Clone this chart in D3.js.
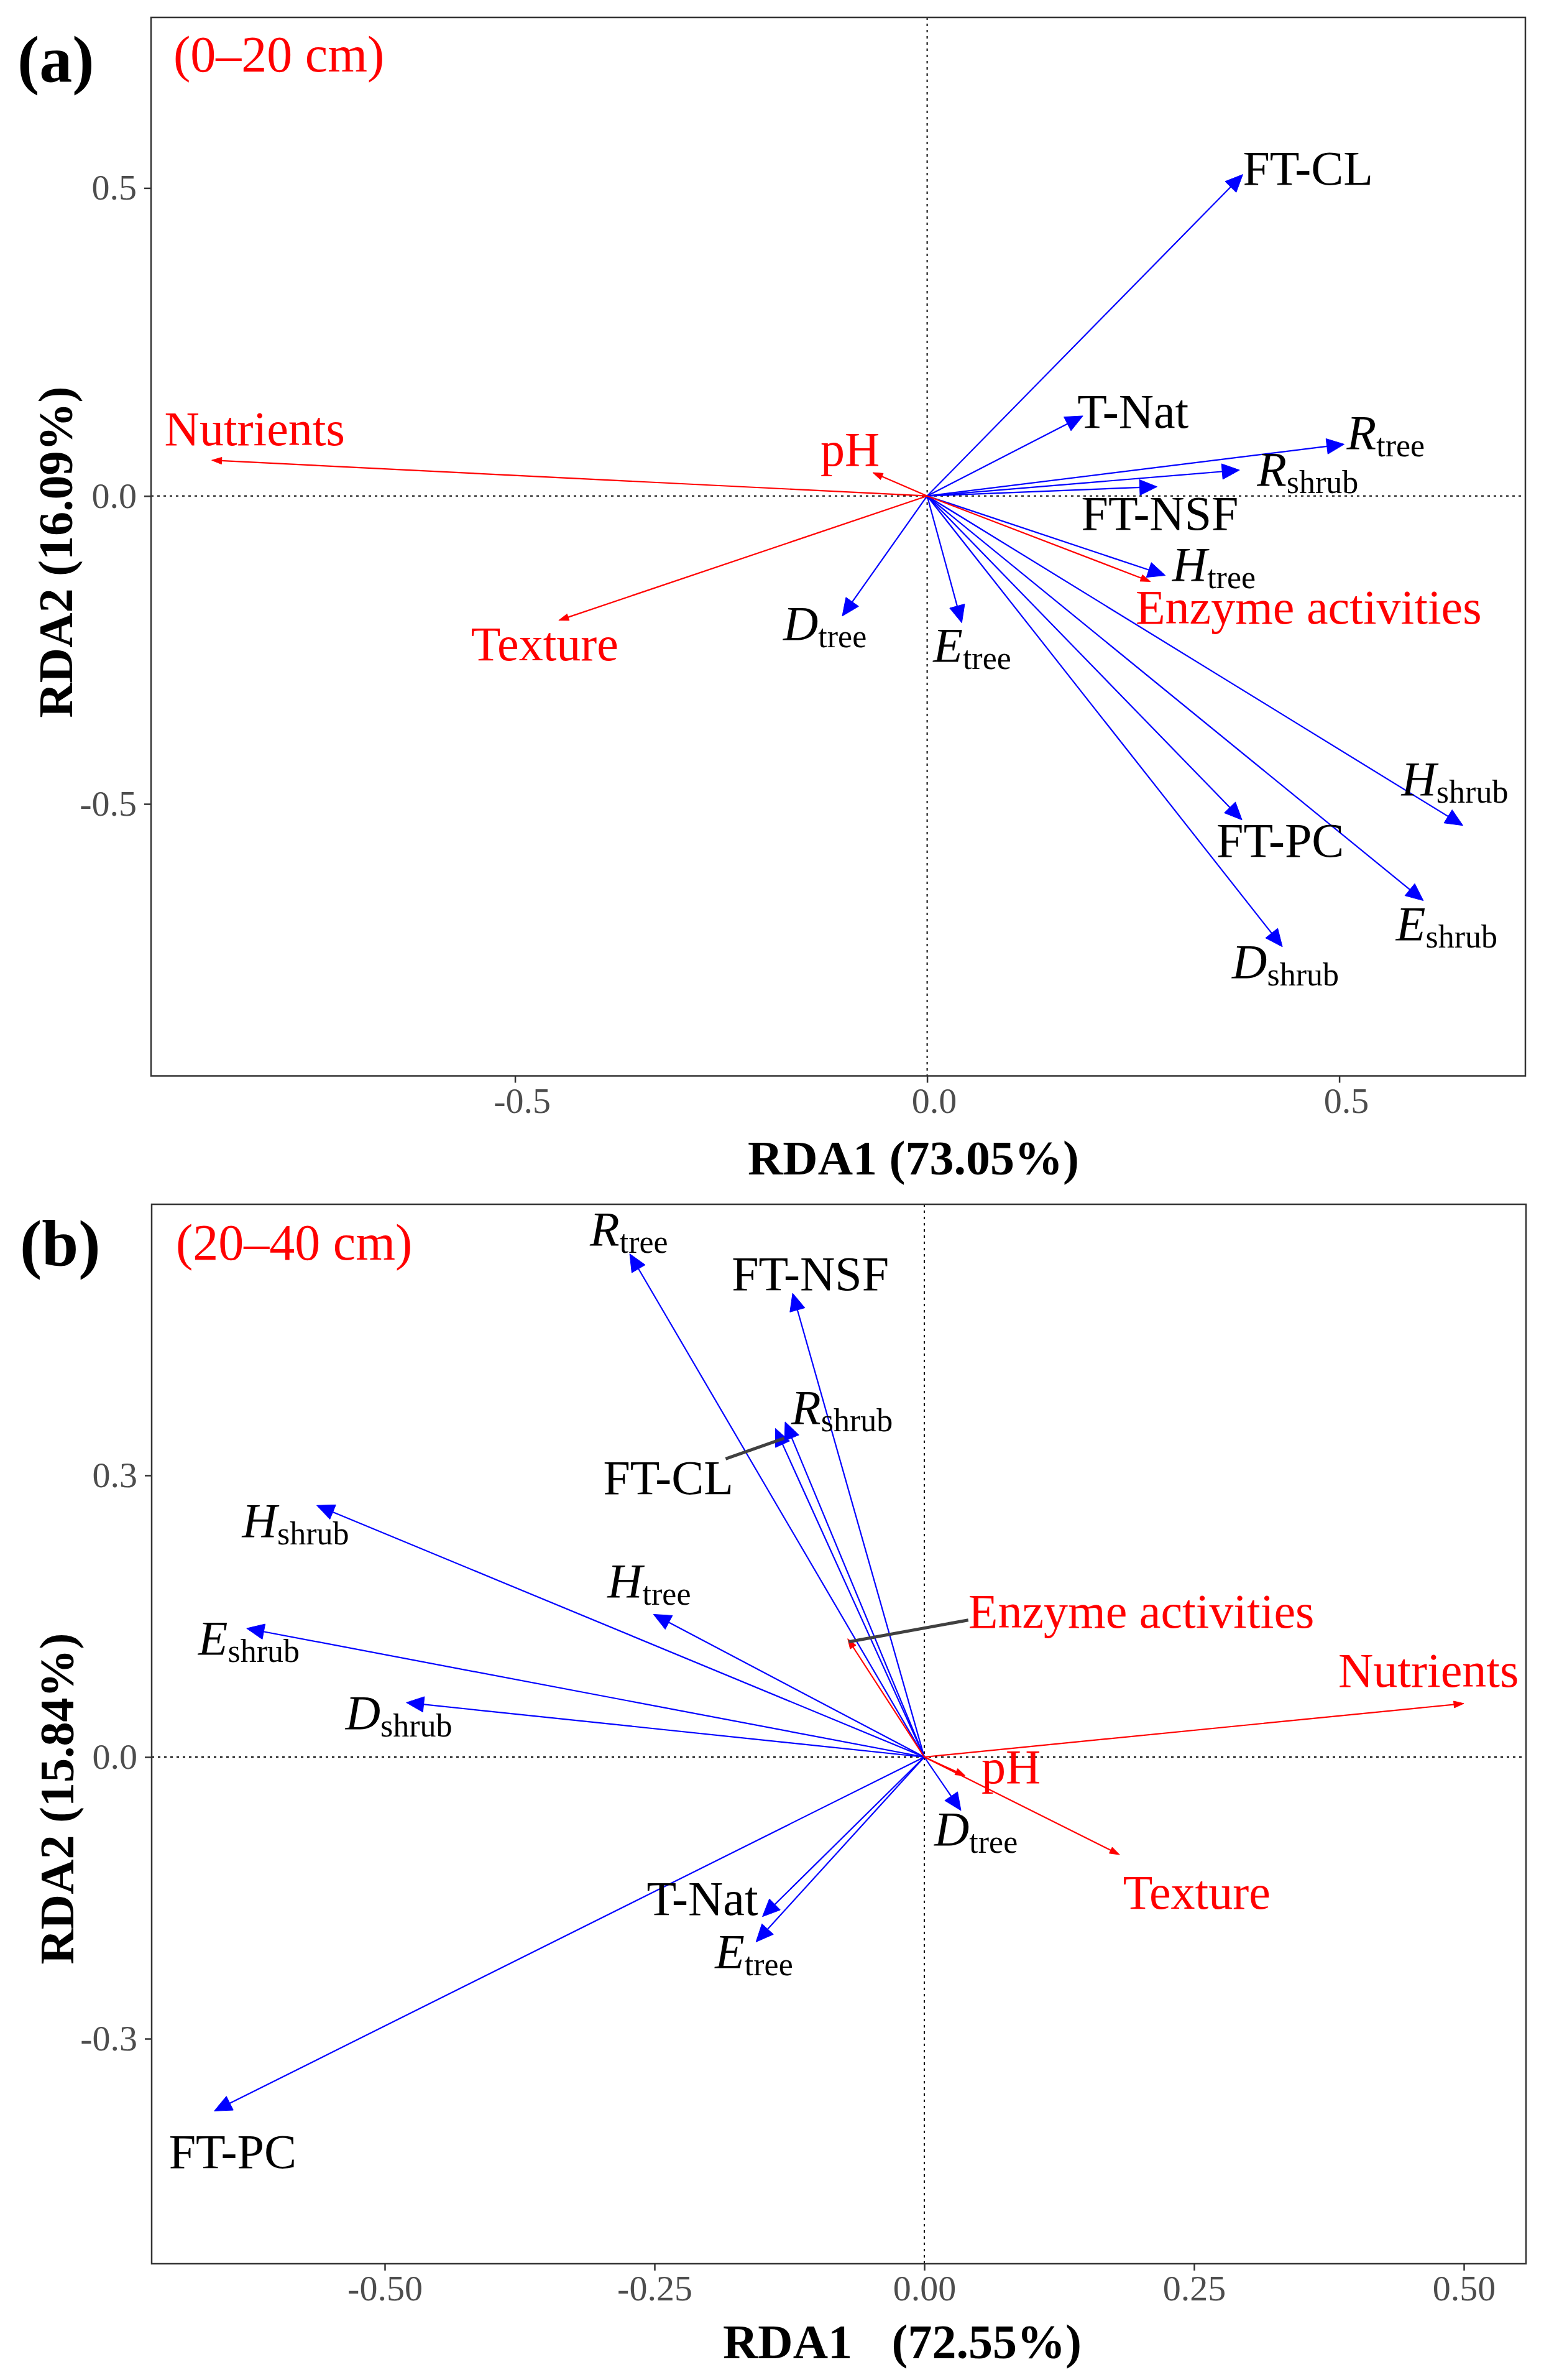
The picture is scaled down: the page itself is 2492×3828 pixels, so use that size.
<!DOCTYPE html>
<html><head><meta charset="utf-8">
<script src="https://cdn.jsdelivr.net/npm/d3@7"></script>
<style>body{margin:0;background:#fff} svg{display:block}</style>
</head><body>
<script>
// ---------------- DATA ----------------
// Panel (a) 0–20 cm : response (plant) variables – blue arrows
const varsA  = ["FT-CL","T-Nat","R_tree","R_shrub","FT-NSF","H_tree","D_tree","E_tree","H_shrub","FT-PC","E_shrub","D_shrub"];
const rda1A  = [0.383, 0.189, 0.506, 0.379, 0.279, 0.289, -0.103, 0.042, 0.650, 0.382, 0.602, 0.431];
const rda2A  = [0.522, 0.130, 0.084, 0.042, 0.015, -0.129, -0.195, -0.206, -0.535, -0.526, -0.657, -0.732];
// Panel (a) explanatory (soil) variables – red arrows
const envA     = ["Nutrients","pH","Texture","Enzyme activities"];
const envRda1A = [-0.868, -0.066, -0.447, 0.271];
const envRda2A = [0.058, 0.038, -0.202, -0.139];

// Panel (b) 20–40 cm
const varsB  = ["R_tree","FT-NSF","R_shrub","FT-CL","H_shrub","H_tree","E_shrub","D_shrub","D_tree","T-Nat","E_tree","FT-PC"];
const rda1B  = [-0.273, -0.122, -0.129, -0.138, -0.563, -0.251, -0.628, -0.480, 0.034, -0.150, -0.156, -0.658];
const rda2B  = [0.536, 0.494, 0.357, 0.350, 0.268, 0.152, 0.137, 0.058, -0.057, -0.170, -0.197, -0.377];
const envB     = ["Enzyme activities","Nutrients","pH","Texture"];
const envRda1B = [-0.071, 0.500, 0.038, 0.181];
const envRda2B = [0.126, 0.057, -0.020, -0.104];

// Axis ticks
const ticksXA = [-0.5, 0.0, 0.5];            const tickLabXA = ["-0.5","0.0","0.5"];
const ticksYA = [-0.5, 0.0, 0.5];            const tickLabYA = ["-0.5","0.0","0.5"];
const ticksXB = [-0.5, -0.25, 0, 0.25, 0.5]; const tickLabXB = ["-0.50","-0.25","0.00","0.25","0.50"];
const ticksYB = [-0.3, 0.0, 0.3];            const tickLabYB = ["-0.3","0.0","0.3"];

// Titles
const tagA = "(a)", depthA = "(0–20 cm)", xTitleA = "RDA1 (73.05%)", yTitleA = "RDA2 (16.09%)";
const tagB = "(b)", depthB = "(20–40 cm)", xTitleB1 = "RDA1", xTitleB2 = "(72.55%)", yTitleB = "RDA2 (15.84%)";

// ---------------- LAYOUT ----------------
const W = 2492, H = 3828;
const FONT = "'Liberation Serif','Times New Roman',Times,serif";
const BLUE = "#0000FF", RED = "#FF0000";

const panels = [
  {
    box: {l: 243, r: 2454, t: 28, b: 1730.5}, xDom: [-0.9416, 0.7258], yDom: [-0.9416, 0.777],
    vars: varsA, v1: rda1A, v2: rda2A, env: envA, e1: envRda1A, e2: envRda2A,
    tx: ticksXA, txl: tickLabXA, ty: ticksYA, tyl: tickLabYA, xLabShift: 11,
    tag: tagA, tagPos: [28, 131], depth: depthA, depthPos: [279, 115],
    xTitle: [xTitleA], xTitlePos: [1203, 1889], yTitle: yTitleA, yTitlePos: [116, 888],
    off: {"FT-CL":[0,16],"T-Nat":[-9,19.5],"R_tree":[4,7],"R_shrub":[28,25],"FT-NSF":[-122,69],
          "H_tree":[11,8],"D_tree":[-95,38],"E_tree":[-46,62],"H_shrub":[-99,-49],"FT-PC":[-41,59],
          "E_shrub":[-44,63],"D_shrub":[-81,50],"Nutrients":[-76,-24],"pH":[-84,-11],
          "Texture":[-141,64],"Enzyme activities":[-24,68]},
    leaders: []
  },
  {
    box: {l: 244, r: 2455, t: 1937, b: 3641}, xDom: [-0.716, 0.5576], yDom: [-0.5397, 0.5887],
    vars: varsB, v1: rda1B, v2: rda2B, env: envB, e1: envRda1B, e2: envRda2B,
    tx: ticksXB, txl: tickLabXB, ty: ticksYB, tyl: tickLabYB, xLabShift: 0,
    tag: tagB, tagPos: [32, 2036], depth: depthB, depthPos: [283, 2026],
    xTitle: [xTitleB1, xTitleB2], xTitlePos: [1163, 3793], yTitle: yTitleB, yTitlePos: [118, 2893],
    off: {"R_tree":[-64,-14],"FT-NSF":[-98,-5],"R_shrub":[10,3.5],"FT-CL":[-277,106],"H_shrub":[-120,51],
          "H_tree":[-74,-27.5],"E_shrub":[-78,41.5],"D_shrub":[-98,43],"Enzyme activities":[194,-18],
          "Nutrients":[-202,-27],"pH":[26,12],"D_tree":[-43,56],"Texture":[5.5,86.5],"T-Nat":[-186,-3],
          "E_tree":[-66,42],"FT-PC":[-73,92]},
    // leader: [name, offset from label anchor, offset from arrow tip]
    leaders: [["FT-CL", [197,-57], [14,16]], ["Enzyme activities", [0,-12], [1.5,5]]]
  }
];

const svg = d3.select("body").append("svg").attr("width", W).attr("height", H)
  .attr("viewBox", `0 0 ${W} ${H}`).style("font-family", FONT);
svg.append("rect").attr("width", W).attr("height", H).attr("fill", "#fff");

function drawArrow(g, x0, y0, x1, y1, color, sw, depth, half) {
  const dx = x1 - x0, dy = y1 - y0, len = Math.hypot(dx, dy);
  const ux = dx / len, uy = dy / len;
  const bx = x1 - ux * depth, by = y1 - uy * depth;
  g.append("line").attr("x1", x0).attr("y1", y0).attr("x2", bx + ux * 2).attr("y2", by + uy * 2)
    .attr("stroke", color).attr("stroke-width", sw);
  g.append("path")
    .attr("d", `M${x1},${y1}L${bx - uy * half},${by + ux * half}L${bx + uy * half},${by - ux * half}Z`)
    .attr("fill", color).attr("stroke", color).attr("stroke-width", 1);
}

function addLabel(g, name, x, y, color) {
  const t = g.append("text").attr("x", x).attr("y", y).attr("fill", color).attr("font-size", 78);
  const m = name.match(/^([A-Z])_(\w+)$/);
  if (m) {
    t.append("tspan").attr("font-style", "italic").text(m[1]);
    t.append("tspan").attr("font-size", 52).attr("dy", 12).text(m[2]);
  } else {
    t.text(name);
  }
}

panels.forEach(p => {
  const {l, r, t, b} = p.box;
  const x = d3.scaleLinear().domain(p.xDom).range([l, r]);
  const y = d3.scaleLinear().domain(p.yDom).range([b, t]);
  const g = svg.append("g");

  // dotted zero lines
  g.append("line").attr("x1", l).attr("x2", r).attr("y1", y(0)).attr("y2", y(0))
    .attr("stroke", "#000").attr("stroke-width", 2).attr("stroke-dasharray", "4,6");
  g.append("line").attr("x1", x(0)).attr("x2", x(0)).attr("y1", t).attr("y2", b)
    .attr("stroke", "#000").attr("stroke-width", 2).attr("stroke-dasharray", "4,6");

  // axes
  const ax = g.append("g").attr("transform", `translate(0,${b})`)
    .call(d3.axisBottom(x).tickValues(p.tx).tickFormat((d, i) => p.txl[i]).tickSize(11).tickPadding(7));
  const ay = g.append("g").attr("transform", `translate(${l},0)`)
    .call(d3.axisLeft(y).tickValues(p.ty).tickFormat((d, i) => p.tyl[i]).tickSize(11).tickPadding(12));
  [ax, ay].forEach(a => {
    a.select(".domain").remove();
    a.selectAll(".tick line").attr("stroke", "#333333").attr("stroke-width", 2.5);
    a.selectAll(".tick text").attr("font-family", FONT).attr("font-size", 58).attr("fill", "#4D4D4D");
  });
  ax.selectAll(".tick text").attr("dx", p.xLabShift);

  // panel border
  g.append("rect").attr("x", l).attr("y", t).attr("width", r - l).attr("height", b - t)
    .attr("fill", "none").attr("stroke", "#333333").attr("stroke-width", 2.5);

  const ox = x(0), oy = y(0);
  const tips = {};
  // blue arrows
  p.vars.forEach((n, i) => {
    const px = x(p.v1[i]), py = y(p.v2[i]);
    tips[n] = [px, py];
    drawArrow(g, ox, oy, px, py, BLUE, 2.2, 28, 12.5);
  });
  // red arrows
  p.env.forEach((n, i) => {
    const px = x(p.e1[i]), py = y(p.e2[i]);
    tips[n] = [px, py];
    drawArrow(g, ox, oy, px, py, RED, 2.2, 16, 5.5);
  });

  // leader segments
  p.leaders.forEach(([n, lo, to]) => {
    const [tx, ty] = tips[n];
    const [ofx, ofy] = p.off[n];
    g.append("line")
      .attr("x1", tx + ofx + lo[0]).attr("y1", ty + ofy + lo[1])
      .attr("x2", tx + to[0]).attr("y2", ty + to[1])
      .attr("stroke", "#404040").attr("stroke-width", 5);
  });

  // labels
  p.vars.forEach(n => {
    const [tx, ty] = tips[n], [ofx, ofy] = p.off[n];
    addLabel(g, n, tx + ofx, ty + ofy, "#000");
  });
  p.env.forEach(n => {
    const [tx, ty] = tips[n], [ofx, ofy] = p.off[n];
    addLabel(g, n, tx + ofx, ty + ofy, RED);
  });

  // panel tag and depth
  g.append("text").attr("x", p.tagPos[0]).attr("y", p.tagPos[1]).attr("font-size", 106)
    .attr("font-weight", "bold").attr("fill", "#000").text(p.tag);
  g.append("text").attr("x", p.depthPos[0]).attr("y", p.depthPos[1]).attr("font-size", 82)
    .attr("fill", RED).text(p.depth);

  // axis titles
  const xt = g.append("text").attr("x", p.xTitlePos[0]).attr("y", p.xTitlePos[1])
    .attr("font-size", 78).attr("font-weight", "bold").attr("fill", "#000");
  if (p.xTitle.length === 1) xt.text(p.xTitle[0]);
  else {
    xt.append("tspan").text(p.xTitle[0] + "\u00a0");
    xt.append("tspan").attr("dx", 44).text(p.xTitle[1]);
  }
  g.append("text").attr("transform", `translate(${p.yTitlePos[0]},${p.yTitlePos[1]}) rotate(-90)`)
    .attr("text-anchor", "middle").attr("font-size", 78).attr("font-weight", "bold")
    .attr("fill", "#000").text(p.yTitle);
});
</script>
</body></html>
